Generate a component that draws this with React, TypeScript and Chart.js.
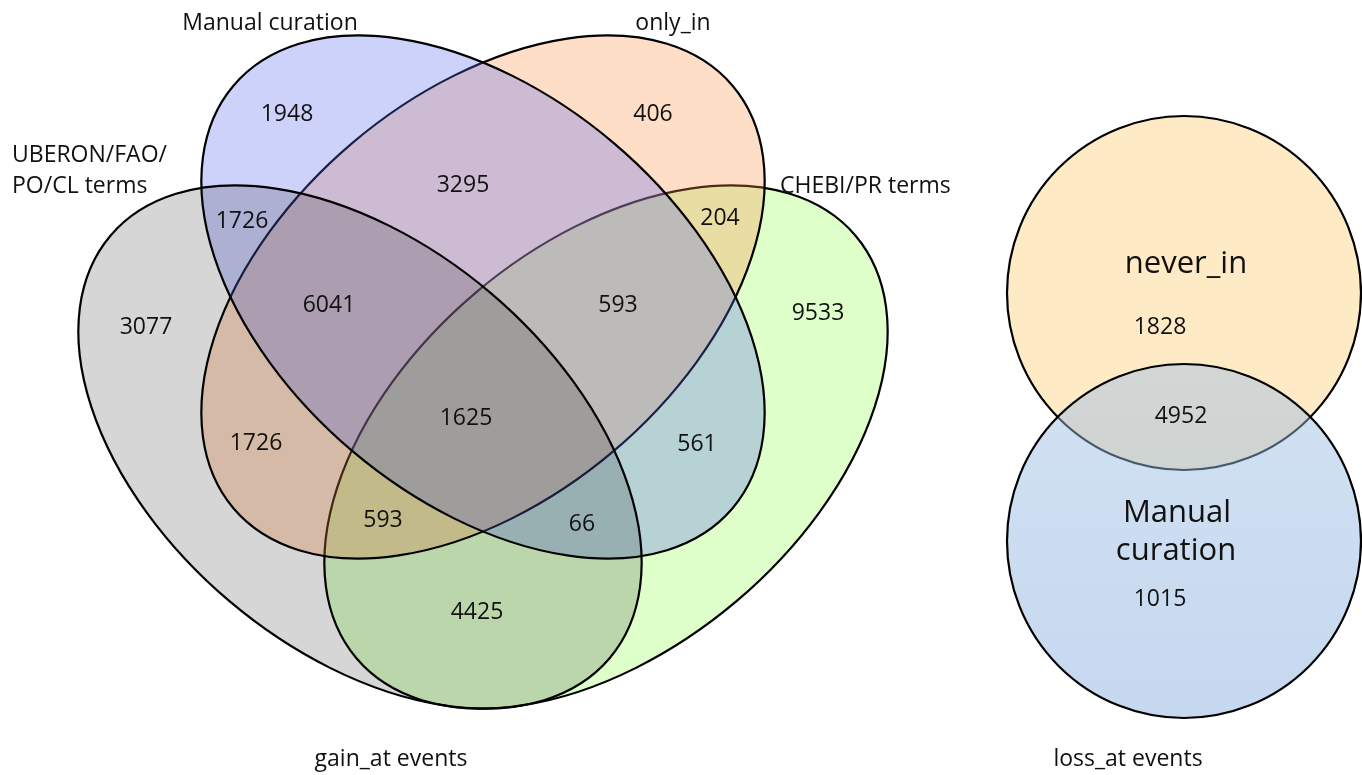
import React, { useEffect, useRef } from "react";
import { Chart, registerables } from "chart.js";

Chart.register(...registerables);

const CANVAS_W = 1362;
const CANVAS_H = 775;
const FONT = '"Open Sans", "DejaVu Sans", sans-serif';

// ---- 4-way diagram: sets (in drawing order) ----
const setNames = ["CHEBI/PR terms", "only_in", "Manual curation", "UBERON/FAO/PO/CL terms"];
const setCenterX = [606, 483, 483, 360];
const setCenterY = [447, 297, 297, 447];
const setSemiMajor = [327, 327, 327, 327];
const setSemiMinor = [202, 202, 202, 202];
const setAngleDeg = [-40.25, -40.25, 40.25, 40.25];
const setFills = [
  "rgba(150,255,80,0.30)",
  "rgba(255,145,72,0.30)",
  "rgba(90,106,237,0.30)",
  "rgba(10,10,10,0.17)",
];

// ---- 4-way diagram: region counts ----
const regionNames = [
  "Manual only", "only_in only", "Manual∩only_in", "Manual∩UBERON", "only_in∩CHEBI",
  "UBERON only", "Manual∩only_in∩UBERON", "Manual∩only_in∩CHEBI", "CHEBI only", "all four",
  "only_in∩UBERON", "Manual∩CHEBI", "only_in∩UBERON∩CHEBI", "Manual∩UBERON∩CHEBI", "UBERON∩CHEBI",
];
const regionCounts = [1948, 406, 3295, 1726, 204, 3077, 6041, 593, 9533, 1625, 1726, 561, 593, 66, 4425];
const regionLabelX = [287, 653, 463, 242, 720, 146, 329, 618, 818, 466, 256, 697, 383, 582, 477];
const regionLabelY = [113, 113, 184, 220, 217, 326, 304, 304, 312, 417, 442, 443, 519, 523, 611];

// set captions
const captionTexts = ["Manual curation", "only_in", "UBERON/FAO/", "PO/CL terms", "CHEBI/PR terms", "gain_at events"];
const captionX = [270, 673, 12, 12, 780, 391];
const captionY = [30, 30, 162, 193, 193, 766];
const captionAlign: CanvasTextAlign[] = ["center", "center", "left", "left", "left", "center"];

// ---- 2-way diagram ----
const pairNames = ["never_in", "Manual curation"];
const pairCenterX = [1184, 1184];
const pairCenterY = [293, 541];
const pairRadius = [177, 177];
const pairCounts = [1828, 4952, 1015];
const pairLabelX = [1160, 1181, 1160];
const pairLabelY = [326, 415, 598];
const pairTitleLines = ["never_in", "Manual", "curation"];
const pairTitleX = [1186, 1177, 1176];
const pairTitleY = [273, 522, 560];
const pairCaption = "loss_at events";
const pairCaptionX = 1128;
const pairCaptionY = 766;

const LINE_W = 2.2;

const vennPlugin = {
  id: "venn",
  beforeDatasetsDraw(chart: any) {
    const { ctx, scales } = chart;
    const xs = scales.x;
    const ys = scales.y;
    const unit = xs.getPixelForValue(1) - xs.getPixelForValue(0);
    ctx.save();
    ctx.fillStyle = "#ffffff";
    ctx.fillRect(0, 0, chart.width, chart.height);

    // 4-way ellipses
    for (let i = 0; i < setNames.length; i++) {
      const px = xs.getPixelForValue(setCenterX[i]);
      const py = ys.getPixelForValue(setCenterY[i]);
      ctx.beginPath();
      ctx.ellipse(px, py, setSemiMajor[i] * unit, setSemiMinor[i] * unit, (setAngleDeg[i] * Math.PI) / 180, 0, Math.PI * 2);
      ctx.fillStyle = setFills[i];
      ctx.fill();
      ctx.lineWidth = LINE_W;
      ctx.strokeStyle = "#000";
      ctx.stroke();
    }

    // 2-way circles
    {
      const px = xs.getPixelForValue(pairCenterX[0]);
      const py = ys.getPixelForValue(pairCenterY[0]);
      ctx.beginPath();
      ctx.arc(px, py, pairRadius[0] * unit, 0, Math.PI * 2);
      ctx.fillStyle = "rgb(255,234,198)";
      ctx.fill();
      ctx.lineWidth = LINE_W;
      ctx.strokeStyle = "#000";
      ctx.stroke();
    }
    {
      const px = xs.getPixelForValue(pairCenterX[1]);
      const py = ys.getPixelForValue(pairCenterY[1]);
      const r = pairRadius[1] * unit;
      const g = ctx.createLinearGradient(0, py - r, 0, py + r);
      g.addColorStop(0, "rgba(160,193,228,0.47)");
      g.addColorStop(1, "rgba(132,172,222,0.47)");
      ctx.beginPath();
      ctx.arc(px, py, r, 0, Math.PI * 2);
      ctx.fillStyle = g;
      ctx.fill();
      ctx.lineWidth = LINE_W;
      ctx.strokeStyle = "#000";
      ctx.stroke();
    }
    ctx.restore();
  },
  afterDatasetsDraw(chart: any) {
    const { ctx, scales } = chart;
    const xs = scales.x;
    const ys = scales.y;
    ctx.save();
    ctx.fillStyle = "#111";
    ctx.textBaseline = "alphabetic";

    // region counts via dataset elements
    const fs = 23;
    ctx.font = `${fs}px ${FONT}`;
    ctx.textAlign = "center";
    const m0 = chart.getDatasetMeta(0);
    m0.data.forEach((el: any, i: number) => {
      ctx.fillText(String(regionCounts[i]), el.x, el.y + fs * 0.357);
    });
    const m1 = chart.getDatasetMeta(1);
    m1.data.forEach((el: any, i: number) => {
      ctx.fillText(String(pairCounts[i]), el.x, el.y + fs * 0.357);
    });

    // captions
    ctx.font = `23px ${FONT}`;
    captionTexts.forEach((t, i) => {
      ctx.textAlign = captionAlign[i];
      ctx.fillText(t, xs.getPixelForValue(captionX[i]), ys.getPixelForValue(captionY[i]));
    });
    ctx.textAlign = "center";
    ctx.fillText(pairCaption, xs.getPixelForValue(pairCaptionX), ys.getPixelForValue(pairCaptionY));

    ctx.font = `31px ${FONT}`;
    pairTitleLines.forEach((t, i) => {
      ctx.fillText(t, xs.getPixelForValue(pairTitleX[i]), ys.getPixelForValue(pairTitleY[i]));
    });
    ctx.restore();
  },
};

export default function App() {
  const ref = useRef<HTMLCanvasElement | null>(null);
  useEffect(() => {
    if (!ref.current) return;
    const chart = new Chart(ref.current, {
      type: "scatter",
      data: {
        datasets: [
          {
            label: "4-way regions",
            data: regionCounts.map((_, i) => ({ x: regionLabelX[i], y: regionLabelY[i] })),
            pointRadius: 0,
            pointHoverRadius: 0,
          },
          {
            label: "2-way regions",
            data: pairCounts.map((_, i) => ({ x: pairLabelX[i], y: pairLabelY[i] })),
            pointRadius: 0,
            pointHoverRadius: 0,
          },
        ],
      },
      options: {
        animation: false,
        responsive: false,
        devicePixelRatio: 1,
        layout: { padding: 0 },
        events: [],
        plugins: { legend: { display: false }, tooltip: { enabled: false } },
        scales: {
          x: { type: "linear", min: 0, max: CANVAS_W, display: false },
          y: { type: "linear", min: 0, max: CANVAS_H, reverse: true, display: false },
        },
      },
      plugins: [vennPlugin],
    });
    return () => chart.destroy();
  }, []);
  return (
    <div style={{ position: "absolute", left: 0, top: 0, width: CANVAS_W, height: CANVAS_H, background: "#fff" }}>
      <canvas ref={ref} width={CANVAS_W} height={CANVAS_H} style={{ display: "block" }} />
    </div>
  );
}
